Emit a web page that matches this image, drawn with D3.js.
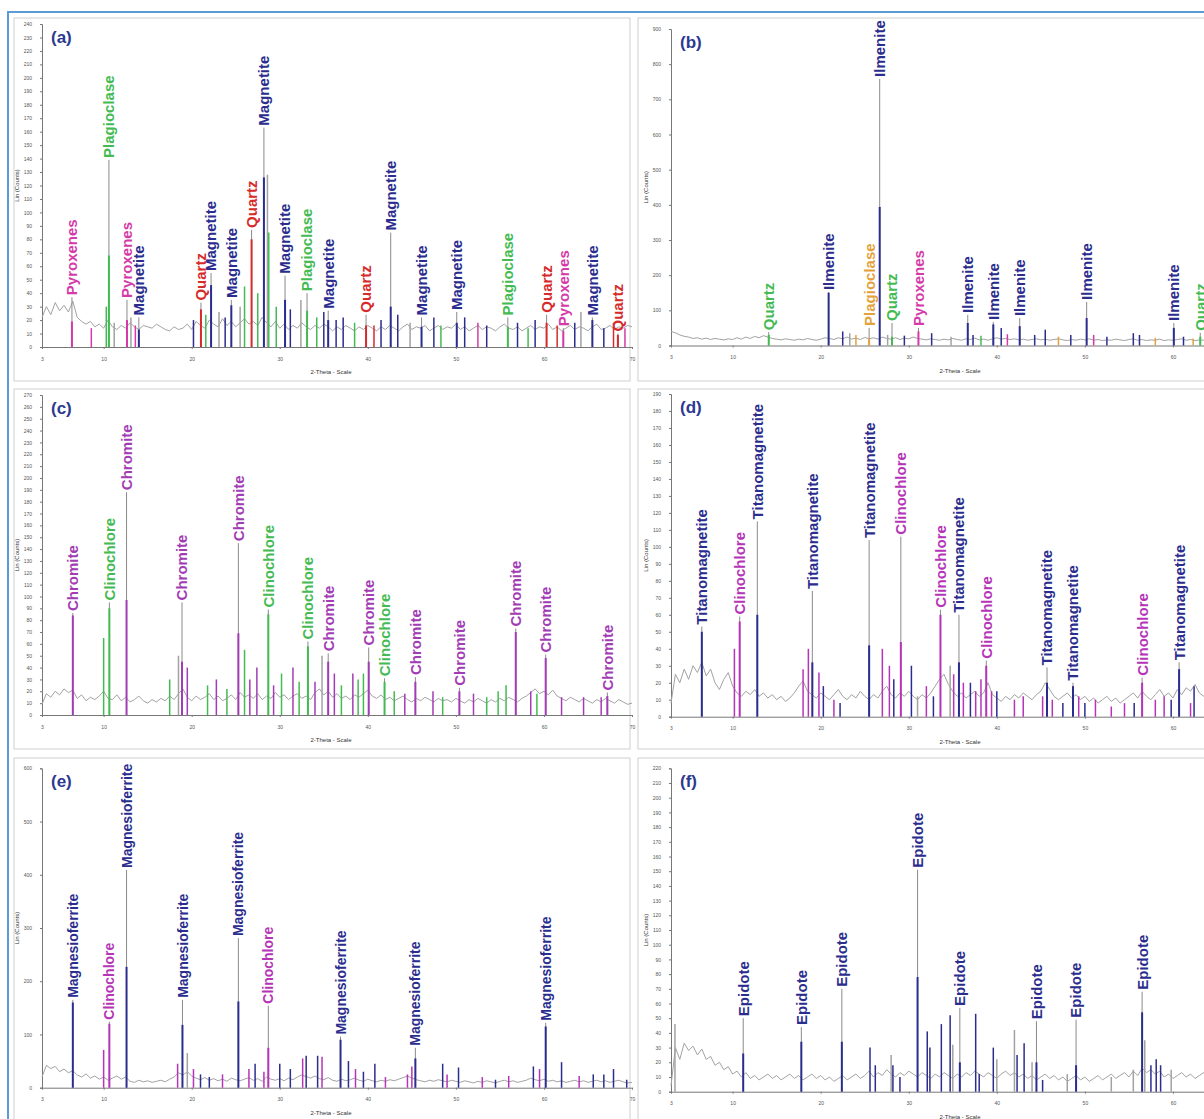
<!DOCTYPE html>
<html>
<head>
<meta charset="utf-8">
<script src="https://cdnjs.cloudflare.com/ajax/libs/d3/7.8.5/d3.min.js"></script>
<style>
  body { margin: 0; background: #fff; }
  svg text { font-family: "Liberation Sans", Arial, sans-serif; }
</style>
</head>
<body>
<script>
// shared 2-theta ticks, background traces are sampled every 0.5 deg from 3 deg
let xTicks = [3, 10, 20, 30, 40, 50, 60, 70];
let bgStart = 3, bgStep = 0.5;

// ---- (a) ----
let bgA = [22,30,24,33,27,31,26,34,22,19,17,19,15,17,14,20,15,13,16,14,18,15,13,16,15,14,17,15,13,12,15,13,14,17,13,19,16,14,20,17,15,21,16,19,15,18,21,17,19,16,22,18,15,19,14,17,13,16,14,18,15,13,16,14,17,15,12,15,13,16,14,12,15,13,16,14,12,15,13,16,14,12,15,17,13,15,14,16,12,14,16,13,15,14,17,13,15,12,14,16,13,15,14,12,15,17,14,13,15,12,14,16,13,15,14,17,13,15,12,14,16,13,15,14,12,15,17,13,14,16,13,15,14,16,15];
// [2theta, label foot, stick top, phase]
let peaksA = [
  [6.4, 37, 19, "Pyroxenes"], [10.6, 139, 68, "Plagioclase"], [12.65, 35, 20, "Pyroxenes"],
  [14.0, 22, 13, "Magnetite"], [21.05, 33, 28, "Quartz"], [22.2, 55, 46, "Magnetite"],
  [24.5, 35, 31, "Magnetite"], [26.8, 87, 80, "Quartz"], [28.2, 163, 126, "Magnetite"],
  [30.6, 53, 35, "Magnetite"], [33.1, 40, 27, "Plagioclase"], [35.5, 27, 20, "Magnetite"],
  [39.8, 24, 16, "Quartz"], [42.6, 85, 30, "Magnetite"], [46.1, 22, 15, "Magnetite"],
  [50.1, 26, 18, "Magnetite"], [55.9, 22, 15, "Plagioclase"], [60.3, 24, 18, "Quartz"],
  [62.2, 14, 12, "Pyroxenes"], [65.5, 22, 20, "Magnetite"], [68.4, 10, 9, "Quartz"]
];
let minorA = [
  [8.6, 14, "Pyroxenes"], [10.3, 30, "Plagioclase"], [11.2, 18, "gray"], [13.1, 22, "gray"], [13.6, 16, "Pyroxenes"],
  [20.2, 20, "Magnetite"], [21.6, 24, "Plagioclase"], [23.1, 26, "gray"], [23.8, 22, "Magnetite"], [25.5, 30, "gray"],
  [26.0, 45, "Plagioclase"], [27.5, 40, "Plagioclase"], [28.6, 128, "gray"], [28.75, 85, "Plagioclase"], [29.6, 30, "Plagioclase"],
  [31.2, 28, "Magnetite"], [32.4, 35, "gray"], [34.2, 22, "Plagioclase"], [35.0, 26, "Magnetite"], [36.4, 20, "Magnetite"],
  [37.2, 22, "Magnetite"], [38.5, 18, "Plagioclase"], [40.7, 16, "Quartz"], [41.5, 20, "Magnetite"], [43.4, 24, "Magnetite"],
  [44.8, 18, "gray"], [47.5, 22, "Magnetite"], [48.3, 16, "Plagioclase"], [51.0, 22, "Magnetite"], [52.5, 18, "Pyroxenes"],
  [53.5, 16, "Magnetite"], [57.0, 18, "Magnetite"], [58.2, 14, "Plagioclase"], [59.0, 20, "Magnetite"], [61.5, 16, "Quartz"],
  [63.5, 18, "Magnetite"], [64.2, 26, "gray"], [66.8, 14, "Magnetite"], [67.9, 18, "Quartz"], [69.2, 14, "Pyroxenes"]
];

// ---- (b) ----
let bgB = [40,36,30,26,24,20,22,18,21,17,20,18,16,19,17,22,18,24,20,26,22,28,24,20,18,16,19,17,15,18,16,20,17,15,18,22,20,17,22,19,24,18,21,17,23,19,22,18,24,20,18,22,17,21,19,24,20,18,16,19,17,15,18,16,20,17,15,19,17,21,16,18,15,19,22,18,20,17,19,16,18,15,17,19,16,18,15,17,19,16,14,17,15,18,16,19,15,17,14,16,15,18,16,14,17,19,15,17,14,16,15,18,14,16,15,17,19,15,17,14,16,15,17,14,16,15,17,14,16,15,17,14,16,15,16];
let peaksB = [
  [14.1, 38, 30, "Quartz"], [20.9, 152, 150, "Ilmenite"], [25.5, 50, 20, "Plagioclase"],
  [26.7, 758, 394, "Ilmenite"], [28.1, 64, 25, "Quartz"], [31.1, 50, 40, "Pyroxenes"],
  [36.7, 87, 64, "Ilmenite"], [39.6, 67, 60, "Ilmenite"], [42.6, 78, 55, "Ilmenite"],
  [50.2, 124, 78, "Ilmenite"], [60.1, 64, 50, "Ilmenite"], [63.1, 36, 25, "Quartz"]
];
let minorB = [
  [22.5, 40, "Ilmenite"], [23.3, 35, "gray"], [24.0, 30, "Plagioclase"], [27.6, 30, "gray"], [29.5, 28, "Ilmenite"],
  [32.6, 35, "Ilmenite"], [34.8, 25, "gray"], [37.3, 30, "Ilmenite"], [38.2, 28, "Quartz"], [40.5, 50, "Ilmenite"],
  [41.2, 32, "Pyroxenes"], [44.3, 30, "Ilmenite"], [45.5, 45, "Ilmenite"], [47.0, 25, "Plagioclase"], [48.4, 30, "Ilmenite"],
  [51.0, 30, "Pyroxenes"], [52.5, 25, "Ilmenite"], [55.5, 35, "Ilmenite"], [56.2, 30, "Ilmenite"], [58.0, 22, "Plagioclase"],
  [61.2, 25, "Ilmenite"], [62.3, 20, "Plagioclase"]
];

// ---- (c) ----
let bgC = [9,18,15,20,17,22,19,21,14,17,12,15,13,16,20,14,13,17,12,15,11,13,16,12,10,13,11,14,12,16,13,18,22,15,12,16,13,15,18,13,16,12,14,17,13,19,15,17,14,18,13,16,14,19,15,17,13,16,18,14,16,13,19,22,17,20,15,18,14,16,13,17,15,18,21,16,14,17,13,15,12,14,16,13,11,14,12,15,13,11,14,12,13,11,14,12,10,13,11,14,12,10,13,11,14,12,15,13,11,14,16,19,22,18,20,17,21,16,14,12,15,13,11,14,12,10,13,11,14,12,10,13,11,9,10];
let peaksC = [
  [6.5, 86, 84, "Chromite"], [10.65, 95, 90, "Clinochlore"], [12.6, 188, 97, "Chromite"],
  [18.9, 95, 45, "Chromite"], [25.3, 145, 69, "Chromite"], [28.7, 89, 85, "Clinochlore"],
  [33.2, 62, 58, "Clinochlore"], [35.5, 52, 45, "Chromite"], [40.1, 57, 45, "Chromite"],
  [41.9, 31, 28, "Clinochlore"], [45.4, 32, 28, "Chromite"], [50.4, 23, 20, "Chromite"],
  [56.8, 73, 70, "Chromite"], [60.2, 51, 48, "Chromite"], [67.2, 19, 16, "Chromite"]
];
let minorC = [
  [10.0, 65, "Clinochlore"], [17.5, 30, "Clinochlore"], [18.5, 50, "gray"], [19.5, 40, "Chromite"], [21.8, 25, "Clinochlore"],
  [22.8, 30, "Chromite"], [24.0, 22, "Clinochlore"], [26.0, 55, "Clinochlore"], [26.6, 30, "Chromite"], [27.4, 40, "Chromite"],
  [29.3, 25, "Chromite"], [30.2, 35, "Clinochlore"], [31.5, 40, "Chromite"], [32.2, 28, "Clinochlore"], [34.0, 28, "Chromite"],
  [34.8, 50, "gray"], [36.2, 35, "Chromite"], [37.0, 25, "Clinochlore"], [38.3, 35, "Chromite"], [38.9, 30, "Clinochlore"],
  [39.5, 35, "Clinochlore"], [43.0, 20, "Clinochlore"], [44.2, 18, "Chromite"], [47.4, 20, "Chromite"], [48.5, 15, "Clinochlore"],
  [52.0, 18, "Chromite"], [53.5, 15, "Clinochlore"], [54.8, 20, "Clinochlore"], [55.7, 25, "Clinochlore"], [58.5, 20, "Chromite"],
  [59.2, 18, "Clinochlore"], [62.0, 15, "Chromite"], [64.5, 15, "Chromite"], [66.5, 15, "Chromite"]
];

// ---- (d) ----
let bgD = [8,25,20,28,22,30,26,32,24,28,20,16,22,26,18,14,12,15,13,16,12,14,11,13,10,12,9,11,14,18,21,15,13,11,14,12,10,13,16,12,10,13,11,15,12,10,13,11,15,18,13,11,14,12,15,12,10,13,11,14,18,22,25,19,15,12,14,11,13,15,12,14,20,13,11,9,12,10,13,11,14,12,10,13,15,20,16,12,10,12,14,11,13,10,12,9,11,8,10,12,9,11,8,10,12,14,11,15,12,10,13,16,12,14,11,16,13,17,15,19,14,12,15,11,13,10,12,14,11,13,10,12,11,10,12];
let peaksD = [
  [6.5, 53, 50, "Titanomagnetite"], [10.8, 59, 56, "Clinochlore"], [12.8, 115, 60, "Titanomagnetite"],
  [19.05, 74, 32, "Titanomagnetite"], [25.5, 104, 42, "Titanomagnetite"], [29.1, 106, 44, "Clinochlore"],
  [33.6, 63, 60, "Clinochlore"], [35.7, 60, 32, "Titanomagnetite"], [38.8, 33, 30, "Clinochlore"],
  [45.7, 29, 20, "Titanomagnetite"], [48.65, 20, 18, "Titanomagnetite"], [56.5, 23, 20, "Clinochlore"],
  [60.7, 32, 28, "Titanomagnetite"]
];
let minorD = [
  [10.2, 40, "Clinochlore"], [18.0, 28, "Clinochlore"], [18.6, 40, "Clinochlore"], [19.8, 26, "Clinochlore"], [20.3, 18, "Titanomagnetite"],
  [21.5, 10, "Clinochlore"], [22.2, 8, "Titanomagnetite"], [27.0, 40, "Clinochlore"], [27.8, 30, "Clinochlore"], [28.3, 22, "Titanomagnetite"],
  [30.3, 30, "Titanomagnetite"], [31.0, 12, "gray"], [32.0, 18, "Clinochlore"], [32.8, 12, "Titanomagnetite"], [34.7, 30, "gray"],
  [35.1, 25, "Clinochlore"], [36.2, 20, "Clinochlore"], [37.0, 20, "Titanomagnetite"], [37.6, 15, "Clinochlore"], [38.2, 22, "Clinochlore"],
  [39.4, 15, "Clinochlore"], [40.0, 15, "Titanomagnetite"], [42.0, 10, "Clinochlore"], [43.0, 12, "Clinochlore"], [45.2, 12, "Clinochlore"],
  [46.3, 10, "Clinochlore"], [47.5, 8, "Titanomagnetite"], [49.3, 12, "Clinochlore"], [50.0, 8, "Titanomagnetite"], [51.2, 10, "Clinochlore"],
  [53.0, 6, "Clinochlore"], [54.5, 8, "Clinochlore"], [55.6, 8, "Titanomagnetite"], [58.0, 10, "Clinochlore"], [59.0, 12, "Clinochlore"],
  [59.8, 10, "Titanomagnetite"], [62.0, 8, "Clinochlore"], [62.4, 18, "Titanomagnetite"]
];

// ---- (e) ----
let bgE = [20,42,36,40,30,35,28,32,24,20,26,18,22,16,20,14,18,22,16,20,12,10,14,11,13,10,12,14,11,16,20,28,24,30,22,18,15,19,14,17,13,16,12,18,15,13,16,19,14,17,12,20,16,14,17,13,18,15,20,24,21,18,22,17,15,19,14,12,16,13,15,18,14,12,16,13,11,14,12,15,13,16,19,22,18,15,13,11,14,12,15,13,11,14,12,10,13,11,9,12,10,13,11,9,12,14,11,13,10,12,14,18,15,13,16,12,14,11,13,10,12,14,11,13,10,12,14,11,13,10,12,14,11,9,10];
let peaksE = [
  [6.5, 165, 160, "Magnesioferrite"], [10.65, 124, 120, "Clinochlore"], [12.6, 409, 227, "Magnesioferrite"],
  [18.95, 165, 118, "Magnesioferrite"], [25.3, 281, 162, "Magnesioferrite"], [28.7, 154, 75, "Clinochlore"],
  [36.9, 96, 90, "Magnesioferrite"], [45.4, 75, 55, "Magnesioferrite"], [60.2, 122, 115, "Magnesioferrite"]
];
let minorE = [
  [10.0, 71, "Clinochlore"], [18.4, 45, "Clinochlore"], [19.5, 65, "gray"], [20.2, 35, "Clinochlore"], [21.0, 25, "Magnesioferrite"],
  [22.0, 20, "Magnesioferrite"], [23.5, 25, "Clinochlore"], [26.5, 35, "Clinochlore"], [27.2, 45, "Magnesioferrite"], [28.2, 30, "Clinochlore"],
  [30.0, 45, "Magnesioferrite"], [31.2, 35, "Magnesioferrite"], [32.6, 55, "Clinochlore"], [33.0, 60, "Magnesioferrite"], [34.3, 60, "Magnesioferrite"],
  [34.8, 58, "Clinochlore"], [37.8, 50, "Magnesioferrite"], [38.6, 35, "Clinochlore"], [39.5, 30, "Magnesioferrite"], [40.8, 45, "Magnesioferrite"],
  [42.0, 20, "Clinochlore"], [44.5, 25, "Clinochlore"], [45.0, 40, "Clinochlore"], [48.5, 45, "Magnesioferrite"], [49.0, 25, "Clinochlore"],
  [50.3, 38, "Magnesioferrite"], [53.0, 20, "Clinochlore"], [54.5, 15, "Magnesioferrite"], [56.0, 22, "Clinochlore"], [58.8, 40, "Magnesioferrite"],
  [59.5, 35, "Clinochlore"], [62.0, 48, "Magnesioferrite"], [64.0, 22, "Clinochlore"], [65.6, 25, "Magnesioferrite"], [66.8, 25, "Magnesioferrite"],
  [67.9, 35, "Magnesioferrite"], [69.4, 15, "Magnesioferrite"]
];

// ---- (f) ----
let bgF = [4,30,22,33,28,31,25,29,22,24,18,20,15,17,12,14,10,13,9,11,8,10,12,9,11,8,10,12,9,11,8,10,12,9,11,8,10,7,9,11,8,10,12,9,11,14,10,13,11,15,12,10,13,11,14,12,10,13,11,9,12,10,13,11,9,12,10,13,11,14,12,10,13,11,9,12,14,11,13,10,12,9,11,8,10,12,9,11,8,10,7,9,11,8,10,7,9,11,8,10,12,9,11,13,10,14,11,16,13,15,12,14,10,12,9,11,13,10,12,9,11,13,10,12,9,11,13,10,12,9,11,10,12,9,11];
let peaksF = [
  [11.2, 50, 26, "Epidote"], [17.8, 44, 34, "Epidote"], [22.4, 70, 34, "Epidote"],
  [31.0, 151, 78, "Epidote"], [35.8, 57, 20, "Epidote"], [44.5, 48, 20, "Epidote"],
  [49.0, 49, 18, "Epidote"], [56.5, 68, 54, "Epidote"]
];
let minorF = [
  [3.45, 46, "gray"], [25.6, 30, "Epidote"], [26.2, 18, "Epidote"], [28.0, 25, "gray"], [28.2, 18, "Epidote"],
  [29.0, 10, "Epidote"], [32.1, 41, "Epidote"], [32.4, 30, "Epidote"], [33.7, 46, "Epidote"], [34.7, 52, "Epidote"],
  [35.0, 32, "gray"], [37.6, 53, "Epidote"], [38.0, 12, "Epidote"], [39.6, 30, "Epidote"], [40.0, 22, "gray"],
  [42.0, 42, "gray"], [42.3, 25, "Epidote"], [43.1, 33, "Epidote"], [44.0, 20, "gray"], [45.2, 8, "Epidote"],
  [48.0, 12, "gray"], [53.0, 10, "gray"], [55.5, 15, "gray"], [56.8, 35, "gray"], [57.5, 18, "Epidote"],
  [58.1, 22, "Epidote"], [58.6, 18, "Epidote"], [59.8, 15, "gray"]
];

let navy = "#2b2d8e", gray = "#a2a2a2";
let W = 1204, H = 1119;

let panels = [
  { tag: "(a)", box: [14, 18, 616, 363], xr: [42, 632], yr: [347, 24], yMax: 240, yStep: 10, bg: bgA, peaks: peaksA, minor: minorA, fs: 15,
    colors: { Magnetite: navy, Plagioclase: "#43bb52", Pyroxenes: "#d43ba8", Quartz: "#d62b2b", gray: gray } },
  { tag: "(b)", box: [638, 18, 640, 363], xr: [671, 1261], yr: [345.5, 29], yMax: 900, yStep: 100, bg: bgB, peaks: peaksB, minor: minorB, fs: 15,
    colors: { Ilmenite: navy, Quartz: "#43bb52", Plagioclase: "#e3a23b", Pyroxenes: "#d43ba8", gray: gray } },
  { tag: "(c)", box: [14, 389, 616, 360], xr: [42, 632], yr: [715, 395], yMax: 270, yStep: 10, bg: bgC, peaks: peaksC, minor: minorC, fs: 15,
    colors: { Chromite: "#a23cb4", Clinochlore: "#43bb52", gray: gray } },
  { tag: "(d)", box: [638, 389, 640, 360], xr: [671, 1261], yr: [716.7, 394], yMax: 190, yStep: 10, bg: bgD, peaks: peaksD, minor: minorD, fs: 15,
    colors: { Titanomagnetite: navy, Clinochlore: "#b534b8", gray: gray } },
  { tag: "(e)", box: [14, 758, 616, 380], xr: [42, 632], yr: [1087.7, 768.3], yMax: 600, yStep: 100, bg: bgE, peaks: peaksE, minor: minorE, fs: 14,
    colors: { Magnesioferrite: navy, Clinochlore: "#b534b8", gray: gray } },
  { tag: "(f)", box: [638, 758, 640, 380], xr: [671, 1261], yr: [1091.7, 768.3], yMax: 220, yStep: 10, bg: bgF, peaks: peaksF, minor: minorF, fs: 15,
    colors: { Epidote: navy, gray: gray } }
];

let svg = d3.select("body").append("svg")
  .attr("width", W)
  .attr("height", H);

svg.append("rect").attr("width", W).attr("height", H).attr("fill", "#fff");

// outer frame of the figure
svg.append("path")
  .attr("d", "M8," + H + " V12 H" + W)
  .attr("fill", "none")
  .attr("stroke", "#5b9bd5")
  .attr("stroke-width", 2);

panels.forEach(function(p) {
  let g = svg.append("g");

  g.append("rect")
    .attr("x", p.box[0]).attr("y", p.box[1])
    .attr("width", p.box[2]).attr("height", p.box[3])
    .attr("fill", "#fff")
    .attr("stroke", "#cfcfcf");

  let x = d3.scaleLinear().domain([3, 70]).range(p.xr);
  let y = d3.scaleLinear().domain([0, p.yMax]).range(p.yr);

  // axes (only the ticks that fall inside the window)
  let shownTicks = xTicks.filter(function(t) { return x(t) < W - 4; });
  let yAxis = g.append("g")
    .attr("transform", "translate(" + p.xr[0] + ",0)")
    .call(d3.axisLeft(y).tickValues(d3.range(0, p.yMax + 1, p.yStep)).tickSize(2).tickPadding(8));
  let xAxis = g.append("g")
    .attr("transform", "translate(0," + p.yr[0] + ")")
    .call(d3.axisBottom(x).tickValues(shownTicks).tickSize(2).tickPadding(8).tickSizeOuter(0));
  [yAxis, xAxis].forEach(function(a) {
    a.selectAll("path, line").attr("stroke", "#777");
    a.selectAll("text").attr("font-size", 5).attr("fill", "#555");
  });

  g.append("text")
    .attr("transform", "translate(" + (p.xr[0] - 23) + "," + ((p.yr[0] + p.yr[1]) / 2) + ") rotate(-90)")
    .attr("text-anchor", "middle")
    .attr("font-size", 6)
    .attr("fill", "#333")
    .text("Lin (Counts)");

  g.append("text")
    .attr("x", (p.xr[0] + p.xr[1]) / 2 - 6)
    .attr("y", p.yr[0] + 27)
    .attr("text-anchor", "middle")
    .attr("font-size", 6)
    .attr("fill", "#333")
    .text("2-Theta - Scale");

  // measured trace
  let line = d3.line()
    .x(function(d, i) { return x(bgStart + i * bgStep); })
    .y(function(d) { return y(d); });
  g.append("path")
    .attr("d", line(p.bg))
    .attr("fill", "none")
    .attr("stroke", gray)
    .attr("stroke-width", 1);

  // reference sticks without names
  g.selectAll(".minor")
    .data(p.minor)
    .enter().append("line")
      .attr("x1", function(d) { return x(d[0]); })
      .attr("x2", function(d) { return x(d[0]); })
      .attr("y1", y(0))
      .attr("y2", function(d) { return y(d[1]); })
      .attr("stroke", function(d) { return p.colors[d[2]]; })
      .attr("stroke-width", 1.5);

  // named peaks: leader line, coloured stick, label
  let pk = g.selectAll(".peak")
    .data(p.peaks)
    .enter().append("g");
  pk.append("line")
    .attr("x1", function(d) { return x(d[0]); })
    .attr("x2", function(d) { return x(d[0]); })
    .attr("y1", y(0))
    .attr("y2", function(d) { return y(d[1]); })
    .attr("stroke", "#8a8a8a")
    .attr("stroke-width", 1);
  pk.append("line")
    .attr("x1", function(d) { return x(d[0]); })
    .attr("x2", function(d) { return x(d[0]); })
    .attr("y1", y(0))
    .attr("y2", function(d) { return y(d[2]); })
    .attr("stroke", function(d) { return p.colors[d[3]]; })
    .attr("stroke-width", 2);
  pk.append("text")
    .attr("transform", function(d) { return "translate(" + x(d[0]) + "," + (y(d[1]) - 2) + ") rotate(-90)"; })
    .attr("dy", "0.36em")
    .attr("font-size", p.fs)
    .attr("font-weight", "bold")
    .attr("fill", function(d) { return p.colors[d[3]]; })
    .text(function(d) { return d[3]; });

  g.append("text")
    .attr("x", p.xr[0] + 9)
    .attr("y", p.yr[1] + 19)
    .attr("font-size", 17)
    .attr("font-weight", "bold")
    .attr("fill", "#2b3990")
    .text(p.tag);
});
</script>
</body>
</html>
